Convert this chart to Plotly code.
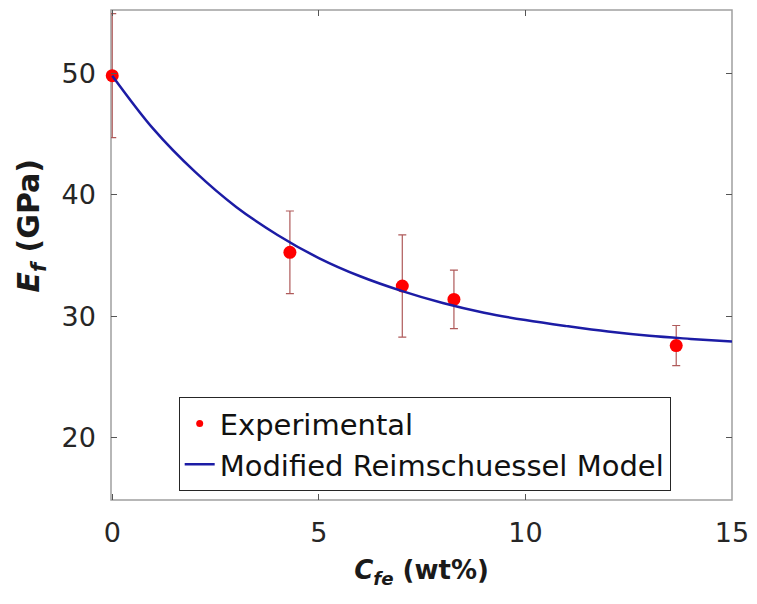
import plotly.graph_objects as go

exp_x = [0.0, 4.3, 7.02, 8.27, 13.65]
exp_y = [49.8, 35.27, 32.5, 31.4, 27.6]
exp_err = [5.1, 3.4, 4.2, 2.4, 1.65]

# Model curve
model_x = [0, 1, 2, 3, 4, 5, 6, 7, 8, 9, 10, 11, 12, 13, 14, 15]
model_y = [49.8, 45.4, 41.9, 39.0, 36.7, 34.8, 33.3, 32.1, 31.1, 30.3,
           29.7, 29.2, 28.75, 28.4, 28.15, 27.93]

x_ticks = [0, 5, 10, 15]
y_ticks = [20, 30, 40, 50]

FONT = "DejaVu Sans"
TICK_COLOR = "#262626"
AXIS_COLOR = "#a0a0a0"
ERR_COLOR = "rgb(175,90,90)"

fig = go.Figure()
fig.add_trace(go.Scatter(
    x=exp_x, y=exp_y, mode="markers", name="Experimental", showlegend=False,
    marker=dict(color="#ff0000", size=13), cliponaxis=False,
    error_y=dict(type="data", array=exp_err, visible=True,
                 color=ERR_COLOR, thickness=1.2, width=4),
))
# legend entry for the experimental series (small dot like the reference)
fig.add_trace(go.Scatter(
    x=[None], y=[None], mode="markers", name="Experimental",
    marker=dict(color="#ff0000", size=7),
))
fig.add_trace(go.Scatter(
    x=model_x, y=model_y, mode="lines", name="Modified Reimschuessel Model",
    line=dict(color="rgb(28,28,165)", width=2.5, shape="spline", smoothing=1.0),
    cliponaxis=False,
))

axis_common = dict(
    showgrid=False, zeroline=False, showline=True, mirror="ticks",
    linecolor="rgba(0,0,0,0)", linewidth=1.5,
    ticks="inside", ticklen=6, tickwidth=1.2, tickcolor="#555555",
    tickfont=dict(family=FONT, size=27, color=TICK_COLOR),
)

fig.update_xaxes(range=[-0.03, 15], tickvals=x_ticks, ticklabelstandoff=8,
                 title=dict(text="<b><i>C</i></b><sub><b><i>fe</i></b></sub><b> (wt%)</b>",
                            font=dict(family=FONT, size=26, color="#1a1a1a"),
                            standoff=14),
                 **axis_common)
fig.update_yaxes(range=[14.9, 55.2], tickvals=y_ticks, ticklabelstandoff=8,
                 **axis_common)

# axes box drawn beneath the data so the error bar at x = 0 stays visible
fig.add_shape(type="rect", xref="paper", yref="paper", x0=0, y0=0, x1=1, y1=1,
              line=dict(color=AXIS_COLOR, width=1.5), layer="below")

fig.add_annotation(
    text="<b><i>E</i></b><sub><b><i>f</i></b></sub><b> (GPa)</b>",
    textangle=-90, xref="paper", yref="paper",
    x=(30 - 111) / 624, y=(500 - 224) / 492,
    xanchor="center", yanchor="middle", showarrow=False,
    font=dict(family=FONT, size=30, color="#1a1a1a"),
)

fig.update_layout(
    width=757, height=604,
    margin=dict(l=111, r=22, t=8, b=104),
    paper_bgcolor="white", plot_bgcolor="white",
    showlegend=True,
    legend=dict(
        x=0.109, y=0.018, xanchor="left", yanchor="bottom",
        bgcolor="white", bordercolor="#262626", borderwidth=1,
        font=dict(family=FONT, size=29, color="#111111"),
        itemwidth=30, tracegroupgap=0,
    ),
)

fig.write_html("out.html")
